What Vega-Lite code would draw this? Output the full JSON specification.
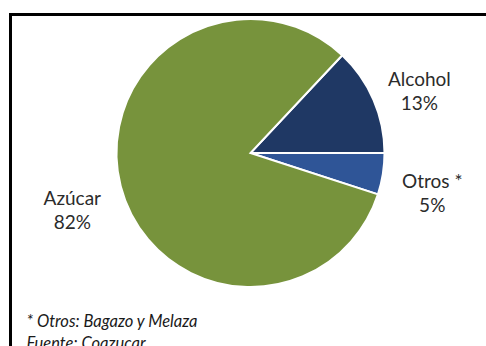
{
  "$schema": "https://vega.github.io/schema/vega-lite/v6.json",
  "autosize": "none",
  "width": 480,
  "height": 340,
  "padding": {"left": 10.5, "top": 14.5, "right": 0, "bottom": 0},
  "background": "#ffffff",
  "view": {"stroke": "#000000", "strokeWidth": 3, "fill": "#ffffff"},
  "config": {
    "view": {"stroke": "#000000", "strokeWidth": 3},
    "text": {"font": "Lato"}
  },
  "layer": [
    {
      "data": {
        "values": [
          {"cat": "Alcohol", "pct": 13, "ord": 1, "label": "Alcohol\n13%"},
          {"cat": "Otros", "pct": 5, "ord": 2, "label": "Otros *\n5%"},
          {"cat": "Azúcar", "pct": 82, "ord": 3, "label": "Azúcar\n82%"}
        ]
      },
      "layer": [
        {
          "mark": {"type": "arc", "outerRadius": 134, "y": 138.5, "stroke": "#ffffff", "strokeWidth": 2},
          "encoding": {
            "theta": {"field": "pct", "type": "quantitative", "stack": true, "scale": {"range": [0.754, 7.037]}},
            "order": {"field": "ord", "type": "quantitative"},
            "color": {
              "field": "cat",
              "type": "nominal",
              "scale": {"domain": ["Alcohol", "Otros", "Azúcar"], "range": ["#1f3864", "#2f5597", "#77933c"]},
              "legend": null
            }
          }
        },
        {
          "mark": {"type": "text", "y": 138.5, "fontSize": 19, "lineBreak": "\n", "lineHeight": 24, "color": "#2b2b2b", "baseline": "middle"},
          "encoding": {
            "theta": {"field": "pct", "type": "quantitative", "stack": true, "scale": {"range": [0.754, 7.037]}},
            "order": {"field": "ord", "type": "quantitative"},
            "radius": {"condition": {"test": "datum.cat === 'Otros'", "value": 168}, "value": 184},
            "text": {"field": "label"}
          }
        }
      ]
    },
    {
      "data": {"values": [{"note": "* Otros: Bagazo y Melaza\nFuente: Coazucar"}]},
      "mark": {"type": "text", "x": 16, "y": 312.5, "align": "left", "baseline": "alphabetic", "fontSize": 16.5, "fontStyle": "italic", "lineBreak": "\n", "lineHeight": 22, "color": "#1a1a1a"},
      "encoding": {"text": {"field": "note"}}
    }
  ]
}
